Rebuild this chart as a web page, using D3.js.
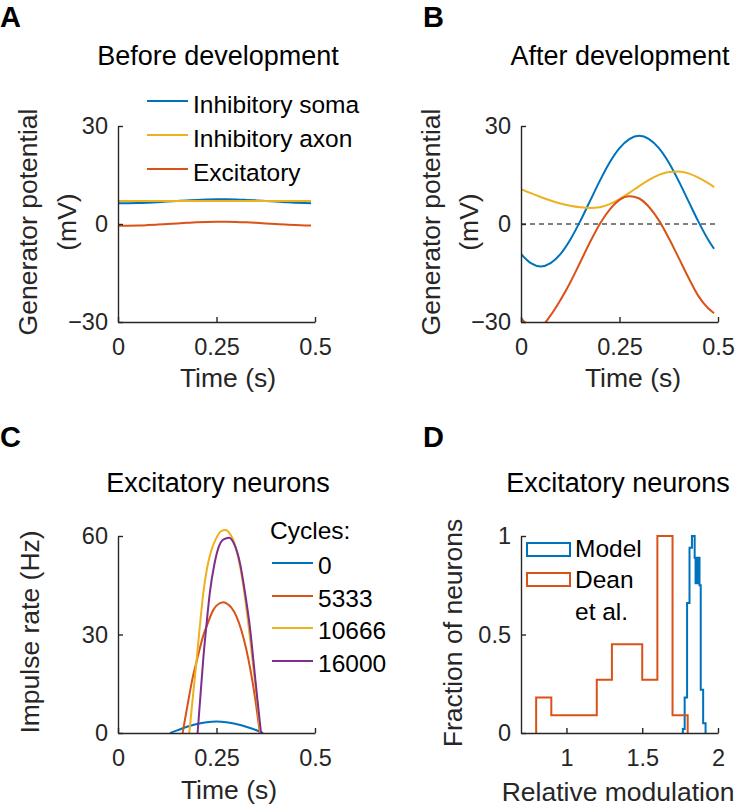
<!DOCTYPE html>
<html>
<head>
<meta charset="utf-8">
<script src="https://cdn.jsdelivr.net/npm/d3@7"></script>
<style>
body { margin: 0; background: #fff; }
svg text { font-family: "Liberation Sans", Arial, Helvetica, sans-serif; }
</style>
</head>
<body>
<div id="figure"><svg></svg></div>
<script>
// ---- data ----
// panels A and B: generator potential (mV) sampled over one stimulus cycle
const timeAB = [0, 0.025, 0.05, 0.075, 0.1, 0.125, 0.15, 0.175, 0.2, 0.225, 0.25,
                0.275, 0.3, 0.325, 0.35, 0.375, 0.4, 0.425, 0.45, 0.475, 0.49];
const somaA = [6.35, 6.35, 6.40, 6.52, 6.67, 6.85, 7.04, 7.22, 7.38, 7.49, 7.55,
               7.55, 7.50, 7.38, 7.23, 7.05, 6.86, 6.68, 6.52, 6.41, 6.37];
const axonA = [7.02, 7.02, 7.02, 7.03, 7.03, 7.04, 7.04, 7.04, 7.05, 7.05, 7.05,
               7.05, 7.05, 7.05, 7.04, 7.04, 7.04, 7.03, 7.03, 7.02, 7.02];
const excA = [-0.51, -0.51, -0.46, -0.34, -0.19, -0.01, 0.18, 0.36, 0.52, 0.63, 0.69,
              0.69, 0.64, 0.52, 0.37, 0.19, 0.0, -0.18, -0.34, -0.45, -0.49];
const somaB = [-9.2, -12.0, -13.0, -12.0, -9.2, -4.8, 0.8, 7.0, 13.2, 18.8, 23.2,
               26.0, 27.0, 26.0, 23.2, 18.8, 13.2, 7.0, 0.8, -4.8, -7.6];
const axonB = [10.7, 9.45, 8.27, 7.19, 6.27, 5.56, 5.10, 4.91, 5.14, 6.09, 7.63,
               9.55, 11.61, 13.51, 15.02, 15.90, 16.08, 15.5, 14.2, 12.5, 11.3];
const excB = [-28.8, -31.2, -31.2, -28.0, -23.3, -17.9, -11.8, -5.6, 0.0, 4.4, 7.4,
              8.5, 7.8, 5.2, 1.1, -4.3, -10.3, -16.4, -22.0, -25.8, -27.3];
const potNames = ["Inhibitory soma", "Inhibitory axon", "Excitatory"];

// panel C: impulse rate (Hz) of excitatory neurons after N cycles
const cycleNames = ["0", "5333", "10666", "16000"];
const timeC0 = [0.132, 0.15, 0.175, 0.2, 0.225, 0.25, 0.275, 0.3, 0.325, 0.35, 0.368];
const rateC0 = [0, 0.8, 1.9, 2.75, 3.3, 3.5, 3.3, 2.75, 1.9, 0.9, 0];
const timeC1 = [0.164, 0.175, 0.191, 0.2, 0.217, 0.225, 0.242, 0.25, 0.267, 0.275, 0.3, 0.325, 0.348, 0.36];
const rateC1 = [0, 7.5, 17.7, 22, 29.9, 32.5, 37.5, 38.8, 39.8, 39.5, 35.7, 25.8, 10.6, 0];
const timeC2 = [0.181, 0.19, 0.2, 0.2085, 0.217, 0.225, 0.2335, 0.25, 0.262, 0.273, 0.285,
                0.295, 0.305, 0.318, 0.331, 0.342, 0.352, 0.361];
const rateC2 = [0, 11, 22.8, 33.5, 43.1, 49.5, 54.2, 59.5, 61.5, 61.8, 60.5,
                58, 53.5, 45, 33, 21.5, 11, 0];
const timeC3 = [0.202, 0.209, 0.2166, 0.225, 0.2335, 0.244, 0.2546, 0.268, 0.282, 0.295,
                0.31, 0.322, 0.335, 0.345, 0.354, 0.363];
const rateC3 = [0, 11, 22.8, 33.5, 43.1, 51, 56.3, 59, 59.5, 57.5,
                51.5, 43, 32, 20.5, 10, 0];

// panel D: histograms of relative modulation
const histNames = ["Model", "Dean", "et al."];
const modelEdges = [1.768, 1.780, 1.796, 1.812, 1.828, 1.846, 1.852, 1.856, 1.860,
                    1.864, 1.868, 1.872, 1.878, 1.886, 1.902, 1.918];
const modelFrac = [0.02, 0.18, 0.66, 0.94, 1.0, 0.89, 0.76, 0.89, 0.77,
                   0.88, 0.76, 0.89, 0.75, 0.22, 0.05];
const deanEdges = [0.8, 0.9, 1.0, 1.1, 1.2, 1.3, 1.4, 1.5, 1.6, 1.7, 1.8];
const deanFrac = [0.18, 0.09, 0.09, 0.09, 0.27, 0.45, 0.45, 0.27, 1.0, 0.09];

// tick values
const timeTicks = [0, 0.25, 0.5];
const potTicks = [-30, 0, 30];
const rateTicks = [0, 30, 60];
const modTicks = [1, 1.5, 2];
const fracTicks = [0, 0.5, 1];

// ---- drawing ----
const colors = ["#0072BD", "#D95319", "#EDB120", "#7E2F8E"];
const axisColor = "#262626";
const tickFont = 23.5, labelFont = 26.5, titleFont = 27, legendFont = 24.5;

let svg = d3.select("#figure").select("svg")
    .attr("width", 740)
    .attr("height", 808)
    .style("background", "#fff");

let fmt = d3.format("~g");

function makePanel(cfg) {
    let g = svg.append("g");
    cfg.x = d3.scaleLinear().domain(cfg.xDomain).range([cfg.left, cfg.right]);
    cfg.y = d3.scaleLinear().domain(cfg.yDomain).range([cfg.bottom, cfg.top]);

    cfg.plot = g.append("g");
    if (cfg.clip) {
        // clip data to the axes box (only needed where a curve leaves the limits)
        svg.append("clipPath").attr("id", "clip" + cfg.letter)
            .append("rect")
            .attr("x", cfg.left).attr("y", cfg.top - 1)
            .attr("width", cfg.right - cfg.left).attr("height", cfg.bottom - cfg.top + 1);
        cfg.plot.attr("clip-path", "url(#clip" + cfg.letter + ")");
    }
    cfg.g = g;

    g.append("text")
        .attr("x", cfg.letterX).attr("y", cfg.letterY)
        .style("font-size", "29px").style("font-weight", "bold")
        .text(cfg.letter);

    g.append("text")
        .attr("x", cfg.titleX).attr("y", cfg.titleY)
        .attr("text-anchor", "middle")
        .style("font-size", titleFont + "px")
        .text(cfg.title);

    g.append("text")
        .attr("x", cfg.xLabelX).attr("y", cfg.xLabelY)
        .attr("text-anchor", "middle")
        .style("font-size", labelFont + "px")
        .attr("fill", axisColor)
        .text(cfg.xLabel);

    cfg.yLabel.forEach(function(line, i) {
        g.append("text")
            .attr("transform", "translate(" + cfg.yLabelX[i] + "," + cfg.yLabelY + ") rotate(-90)")
            .attr("text-anchor", "middle")
            .style("font-size", labelFont + "px")
            .attr("fill", axisColor)
            .text(line);
    });
    return cfg;
}

function finishAxes(cfg) {
    let xAxis = d3.axisBottom(cfg.x).tickValues(cfg.xTicks).tickFormat(fmt)
        .tickSizeInner(-5).tickSizeOuter(0).tickPadding(33 - 0.71 * tickFont);
    let yAxis = d3.axisLeft(cfg.y).tickValues(cfg.yTicks).tickFormat(fmt)
        .tickSizeInner(-5).tickSizeOuter(0).tickPadding(10);

    let gx = cfg.g.append("g").attr("transform", "translate(0," + cfg.bottom + ")").call(xAxis);
    let gy = cfg.g.append("g").attr("transform", "translate(" + cfg.left + ",0)").call(yAxis);
    [gx, gy].forEach(function(a) {
        a.attr("font-size", null).attr("font-family", null);
        a.selectAll("path, line").attr("stroke", axisColor).attr("stroke-width", 1.4);
        a.selectAll("text").attr("fill", axisColor).style("font-size", tickFont + "px");
    });
}

function drawLine(cfg, xs, ys, color) {
    let line = d3.line()
        .x(function(d) { return cfg.x(d[0]); })
        .y(function(d) { return cfg.y(d[1]); })
        .curve(d3.curveMonotoneX);
    cfg.plot.append("path")
        .datum(xs.map(function(t, i) { return [t, ys[i]]; }))
        .attr("d", line)
        .attr("fill", "none")
        .attr("stroke", color)
        .attr("stroke-width", 2);
}

function drawStairs(cfg, edges, heights, color) {
    let pts = [[edges[0], 0]];
    heights.forEach(function(h, i) { pts.push([edges[i], h]); });
    pts.push([edges[edges.length - 1], heights[heights.length - 1]]);
    pts.push([edges[edges.length - 1], 0]);
    let line = d3.line()
        .x(function(d) { return cfg.x(d[0]); })
        .y(function(d) { return cfg.y(d[1]); })
        .curve(d3.curveStepAfter);
    cfg.plot.append("path")
        .datum(pts)
        .attr("d", line)
        .attr("fill", "none")
        .attr("stroke", color)
        .attr("stroke-width", 2);
}

function lineLegend(cfg, names, lineColors, x0, x1, ys, textDy) {
    names.forEach(function(name, i) {
        cfg.g.append("line")
            .attr("x1", x0).attr("x2", x1)
            .attr("y1", ys[i]).attr("y2", ys[i])
            .attr("stroke", lineColors[i]).attr("stroke-width", 2);
        cfg.g.append("text")
            .attr("x", x1 + 5).attr("y", ys[i] + textDy)
            .style("font-size", legendFont + "px")
            .text(name);
    });
}

// panel A
let panelA = makePanel({
    letter: "A", letterX: 0, letterY: 27, clip: false,
    left: 118, right: 315, top: 126, bottom: 322,
    xDomain: [0, 0.5], yDomain: [-30, 30], xTicks: timeTicks, yTicks: potTicks,
    title: "Before development", titleX: 218, titleY: 65,
    xLabel: "Time (s)", xLabelX: 228, xLabelY: 387,
    yLabel: ["Generator potential", "(mV)"], yLabelX: [37, 76], yLabelY: 222
});
drawLine(panelA, timeAB, somaA, colors[0]);
drawLine(panelA, timeAB, axonA, colors[2]);
drawLine(panelA, timeAB, excA, colors[1]);
finishAxes(panelA);
lineLegend(panelA, potNames, [colors[0], colors[2], colors[1]], 147, 188, [101, 135, 169], 12);

// panel B
let panelB = makePanel({
    letter: "B", letterX: 423, letterY: 27, clip: true,
    left: 521, right: 718, top: 126, bottom: 322,
    xDomain: [0, 0.5], yDomain: [-30, 30], xTicks: timeTicks, yTicks: potTicks,
    title: "After development", titleX: 620, titleY: 65,
    xLabel: "Time (s)", xLabelX: 633, xLabelY: 387,
    yLabel: ["Generator potential", "(mV)"], yLabelX: [440, 478], yLabelY: 222
});
panelB.plot.append("line")
    .attr("x1", panelB.x(0)).attr("x2", panelB.x(0.5))
    .attr("y1", panelB.y(0)).attr("y2", panelB.y(0))
    .attr("stroke", "#000").attr("stroke-width", 1)
    .attr("stroke-dasharray", "5,4");
drawLine(panelB, timeAB, somaB, colors[0]);
drawLine(panelB, timeAB, axonB, colors[2]);
drawLine(panelB, timeAB, excB, colors[1]);
finishAxes(panelB);

// panel C
let panelC = makePanel({
    letter: "C", letterX: 0, letterY: 447, clip: false,
    left: 118, right: 315, top: 536, bottom: 733,
    xDomain: [0, 0.5], yDomain: [0, 60], xTicks: timeTicks, yTicks: rateTicks,
    title: "Excitatory neurons", titleX: 218, titleY: 492,
    xLabel: "Time (s)", xLabelX: 229, xLabelY: 799,
    yLabel: ["Impulse rate (Hz)"], yLabelX: [38.5], yLabelY: 632
});
drawLine(panelC, timeC0, rateC0, colors[0]);
drawLine(panelC, timeC1, rateC1, colors[1]);
drawLine(panelC, timeC2, rateC2, colors[2]);
drawLine(panelC, timeC3, rateC3, colors[3]);
finishAxes(panelC);
panelC.g.append("text")
    .attr("x", 270).attr("y", 539)
    .style("font-size", legendFont + "px")
    .text("Cycles:");
lineLegend(panelC, cycleNames, colors, 272, 313, [563, 596, 628, 661], 11);

// panel D
let panelD = makePanel({
    letter: "D", letterX: 423, letterY: 447, clip: false,
    left: 521, right: 718, top: 536, bottom: 733,
    xDomain: [0.7, 2], yDomain: [0, 1], xTicks: modTicks, yTicks: fracTicks,
    title: "Excitatory neurons", titleX: 618, titleY: 492,
    xLabel: "Relative modulation", xLabelX: 618, xLabelY: 801,
    yLabel: ["Fraction of neurons"], yLabelX: [462], yLabelY: 633
});
drawStairs(panelD, modelEdges, modelFrac, colors[0]);
drawStairs(panelD, deanEdges, deanFrac, colors[1]);
finishAxes(panelD);
[543, 573].forEach(function(by, i) {
    panelD.g.append("rect")
        .attr("x", 527).attr("y", by).attr("width", 43).attr("height", 13)
        .attr("fill", "#fff").attr("stroke", colors[i]).attr("stroke-width", 2);
});
histNames.forEach(function(name, i) {
    panelD.g.append("text")
        .attr("x", 575).attr("y", [557, 588, 620][i])
        .style("font-size", legendFont + "px")
        .text(name);
});
</script>
</body>
</html>
